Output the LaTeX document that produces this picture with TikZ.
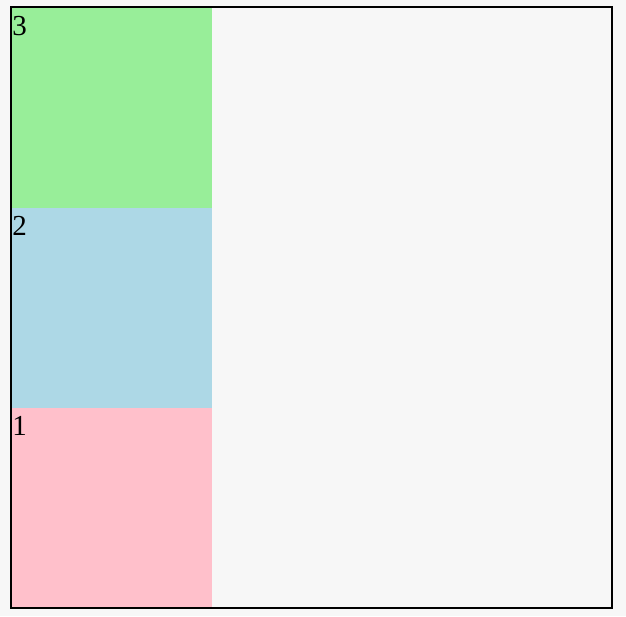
\documentclass[tikz,border=0pt]{standalone}
\usepackage{fontspec}
\setmainfont{Liberation Serif}
\usetikzlibrary{positioning}

\definecolor{pagebg}{HTML}{F7F7F7}
\definecolor{boxgreen}{HTML}{98EE99}
\definecolor{boxblue}{HTML}{ADD8E6}
\definecolor{boxpink}{HTML}{FFC0CB}

\begin{document}
\begin{tikzpicture}[
  x=0.02cm, y=-0.02cm,
  block/.style={draw=none, minimum width=4cm, minimum height=4cm,
                inner sep=0pt, outer sep=0pt, anchor=north west},
  tag/.style={inner sep=0pt, anchor=base west,
              font=\fontsize{16.5}{18}\selectfont}
]

% page background and frame
\fill[pagebg] (0,0) rectangle (626,616);
\useasboundingbox (0,0) rectangle (626,616);

% stacked blocks, top to bottom
\node[block, fill=boxgreen] (three) at (12,8)   {};
\node[block, fill=boxblue]  (two)   at (12,208) {};
\node[block, fill=boxpink]  (one)   at (12,408) {};

\draw[line width=0.04cm] (11,7) rectangle (612,608);

% numbers in the top left corners
\foreach \blk/\num in {three/3, two/2, one/1}{
  \node[tag] (\blk-num) at ([shift={(0,27)}]\blk.north west) {\num};
}

\end{tikzpicture}
\end{document}
